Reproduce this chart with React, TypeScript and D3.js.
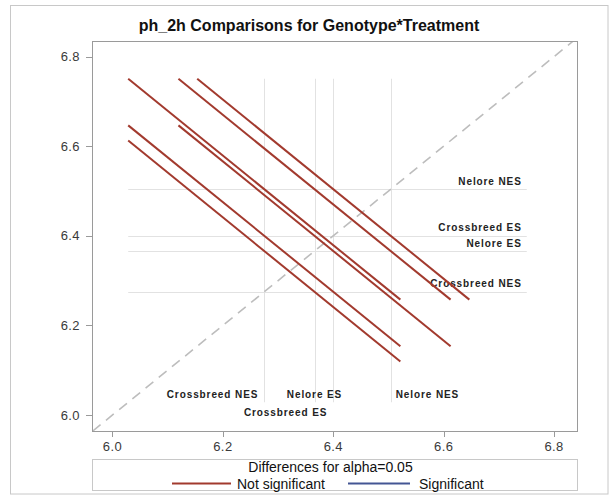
import React from "react";
import * as d3 from "d3";

// LS means for Genotype*Treatment (sorted ascending)
const levels = ["Crossbreed NES", "Nelore ES", "Crossbreed ES", "Nelore NES"];
const means = [6.275, 6.366, 6.4, 6.504];

// Pairwise differences (first level minus second) with 95% confidence limits
const pairFirst = [0, 0, 0, 1, 1, 2];
const pairSecond = [1, 2, 3, 2, 3, 3];
const diffLower = [-0.584, -0.618, -0.722, -0.527, -0.631, -0.597];
const diffUpper = [0.402, 0.368, 0.264, 0.459, 0.355, 0.389];

const tickValues = [6.0, 6.2, 6.4, 6.6, 6.8];

const title = "ph_2h Comparisons for Genotype*Treatment";
const legendTitle = "Differences for alpha=0.05";
const legendItems = ["Not significant", "Significant"];

// label placement of the vertical reference-line labels
const bottomAnchor = ["end", "middle", "end", "start"];
const bottomRow = [0, 0, 1, 0];

const W = 611;
const H = 497;
const plot = { left: 92, right: 577, top: 41, bottom: 431 };

const RED = "#A23A2E";
const BLUE = "#445694";
const FONT = "'Liberation Sans', Arial, Helvetica, sans-serif";

export default function App() {
  const x = d3.scaleLinear().domain([5.9629, 6.8415]).range([plot.left, plot.right]);
  const y = d3.scaleLinear().domain([5.9643, 6.8348]).range([plot.bottom, plot.top]);

  const segments = pairFirst.map((i, k) => {
    const j = pairSecond[k];
    const s = means[i] + means[j];
    const lo = diffLower[k];
    const hi = diffUpper[k];
    const sig = lo > 0 || hi < 0;
    return {
      x1: (s + lo) / 2,
      y1: (s - lo) / 2,
      x2: (s + hi) / 2,
      y2: (s - hi) / 2,
      sig,
    };
  });

  const allCoords = segments.flatMap((d) => [d.x1, d.y1, d.x2, d.y2]);
  const [refMin, refMax] = d3.extent(allCoords) as [number, number];

  const diagLo = Math.max(x.domain()[0], y.domain()[0]);
  const diagHi = Math.min(x.domain()[1], y.domain()[1]);

  const line = d3
    .line<[number, number]>()
    .x((d) => x(d[0]))
    .y((d) => y(d[1]));

  const labelStyle: React.CSSProperties = {
    fontFamily: FONT,
    fontSize: 10,
    fontWeight: "bold",
    letterSpacing: 0.9,
    fill: "#222",
  };
  const tickStyle: React.CSSProperties = {
    fontFamily: FONT,
    fontSize: 13,
    letterSpacing: 0.4,
    fill: "#3a3a3a",
  };
  const legendStyle: React.CSSProperties = {
    fontFamily: FONT,
    fontSize: 14,
    fill: "#111",
  };

  const plotCx = (plot.left + plot.right) / 2;

  return (
    <svg width={W} height={H} style={{ display: "block", margin: 0, position: "absolute", left: 0, top: 0 }}>
      <rect x={0} y={0} width={W} height={H} fill="#fff" />
      <rect x={10.5} y={5.5} width={W - 3 - 10.5} height={H - 3 - 5.5} fill="none" stroke="#c8c8c8" strokeWidth={1} />

      <text x={309} y={31} textAnchor="middle" style={{ fontFamily: FONT, fontSize: 16, fontWeight: "bold", fill: "#111" }}>
        {title}
      </text>

      <defs>
        <clipPath id="plotClip">
          <rect x={plot.left} y={plot.top} width={plot.right - plot.left} height={plot.bottom - plot.top} />
        </clipPath>
      </defs>

      {/* reference lines at each LS mean */}
      <g stroke="#e2e2e2" strokeWidth={1}>
        {means.map((m, i) => (
          <line key={"h" + i} x1={x(refMin)} x2={x(refMax)} y1={Math.round(y(m)) + 0.5} y2={Math.round(y(m)) + 0.5} />
        ))}
        {means.map((m, i) => (
          <line key={"v" + i} y1={y(refMin)} y2={y(refMax)} x1={Math.round(x(m)) + 0.5} x2={Math.round(x(m)) + 0.5} />
        ))}
      </g>

      {/* diagonal y = x */}
      <g clipPath="url(#plotClip)">
        <path
          d={line([
            [diagLo, diagLo],
            [diagHi, diagHi],
          ]) || ""}
          stroke="#bdbdbd"
          strokeWidth={1.6}
          strokeDasharray="10,7"
          fill="none"
        />
      </g>

      {/* labels for horizontal reference lines */}
      {means.map((m, i) => (
        <text key={"rl" + i} x={x(refMax) - 5} y={y(m) - 4.5} textAnchor="end" style={labelStyle}>
          {levels[i]}
        </text>
      ))}

      {/* labels for vertical reference lines */}
      {means.map((m, i) => {
        const a = bottomAnchor[i];
        const dx = a === "end" ? -6 : a === "start" ? 5 : 0;
        return (
          <text
            key={"bl" + i}
            x={x(m) + dx}
            y={398 + bottomRow[i] * 18}
            textAnchor={a as any}
            style={labelStyle}
          >
            {levels[i]}
          </text>
        );
      })}

      {/* comparison segments */}
      <g>
        {segments.map((d, k) => (
          <path
            key={"s" + k}
            d={line([
              [d.x1, d.y1],
              [d.x2, d.y2],
            ]) || ""}
            stroke={d.sig ? BLUE : RED}
            strokeWidth={2}
            fill="none"
          />
        ))}
      </g>

      {/* plot frame */}
      <rect
        x={plot.left + 0.5}
        y={plot.top + 0.5}
        width={plot.right - plot.left}
        height={plot.bottom - plot.top}
        fill="none"
        stroke="#9a9a9a"
        strokeWidth={1}
      />

      {/* x axis */}
      <g>
        {tickValues.map((t) => (
          <g key={"xt" + t}>
            <line x1={Math.round(x(t)) + 0.5} x2={Math.round(x(t)) + 0.5} y1={plot.bottom + 1} y2={plot.bottom + 6} stroke="#9a9a9a" />
            <text x={x(t)} y={plot.bottom + 20} textAnchor="middle" style={tickStyle}>
              {t.toFixed(1)}
            </text>
          </g>
        ))}
      </g>

      {/* y axis */}
      <g>
        {tickValues.map((t) => (
          <g key={"yt" + t}>
            <line x1={plot.left - 6} x2={plot.left} y1={Math.round(y(t)) + 0.5} y2={Math.round(y(t)) + 0.5} stroke="#9a9a9a" />
            <text x={plot.left - 12} y={y(t) + 4.5} textAnchor="end" style={tickStyle}>
              {t.toFixed(1)}
            </text>
          </g>
        ))}
      </g>

      {/* legend */}
      <g>
        <rect x={plot.left + 0.5} y={459.5} width={plot.right - plot.left} height={31} fill="none" stroke="#c8c8c8" />
        <text x={plotCx - 4} y={472} textAnchor="middle" style={legendStyle}>
          {legendTitle}
        </text>
        <line x1={172} x2={231} y1={483.5} y2={483.5} stroke={RED} strokeWidth={2} />
        <text x={237} y={488.5} style={legendStyle}>
          {legendItems[0]}
        </text>
        <line x1={348} x2={410} y1={483.5} y2={483.5} stroke={BLUE} strokeWidth={2} />
        <text x={419} y={488.5} style={legendStyle}>
          {legendItems[1]}
        </text>
      </g>
    </svg>
  );
}
